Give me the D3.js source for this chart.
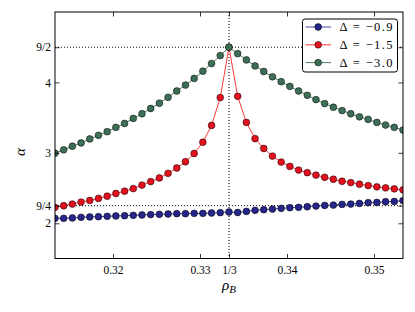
<!DOCTYPE html>
<html>
<head>
<meta charset="utf-8">
<script src="https://cdn.jsdelivr.net/npm/d3@7"></script>
<style>
  html, body { margin: 0; padding: 0; background: #fff; }
  svg text { font-family: "Liberation Serif", "DejaVu Serif", serif; fill: #000; }
</style>
</head>
<body>
<div id="chart"></div>
<script>
// rho_B sample points (1/3 +- k/1000)
const rhoB = [
  0.31333, 0.31433, 0.31533, 0.31633, 0.31733, 0.31833, 0.31933, 0.32033, 0.32133, 0.32233,
  0.32333, 0.32433, 0.32533, 0.32633, 0.32733, 0.32833, 0.32933, 0.33033, 0.33133, 0.33233,
  0.33333,
  0.33433, 0.33533, 0.33633, 0.33733, 0.33833, 0.33933, 0.34033, 0.34133, 0.34233, 0.34333,
  0.34433, 0.34533, 0.34633, 0.34733, 0.34833, 0.34933, 0.35033, 0.35133, 0.35233, 0.35333
];

const alphaD09 = [
  2.071, 2.071, 2.076, 2.085, 2.090, 2.094, 2.099, 2.104, 2.108, 2.113,
  2.118, 2.123, 2.127, 2.132, 2.137, 2.137, 2.141, 2.141, 2.146, 2.151,
  2.160,
  2.153, 2.169, 2.184, 2.193, 2.202, 2.212, 2.221, 2.226, 2.235, 2.245,
  2.254, 2.259, 2.268, 2.273, 2.282, 2.292, 2.296, 2.306, 2.310, 2.322
];

const alphaD15 = [
  2.226, 2.249, 2.273, 2.301, 2.324, 2.353, 2.385, 2.423, 2.456, 2.493,
  2.542, 2.592, 2.644, 2.709, 2.785, 2.874, 2.991, 3.151, 3.390, 3.785,
  4.500,
  3.803, 3.432, 3.202, 3.062, 2.954, 2.869, 2.808, 2.756, 2.719, 2.684,
  2.653, 2.625, 2.597, 2.578, 2.555, 2.536, 2.517, 2.503, 2.489, 2.475
];

const alphaD30 = [
  2.996, 3.043, 3.094, 3.141, 3.198, 3.249, 3.301, 3.362, 3.418, 3.489,
  3.555, 3.630, 3.705, 3.789, 3.878, 3.963, 4.057, 4.160, 4.268, 4.381,
  4.500,
  4.409, 4.320, 4.235, 4.155, 4.080, 4.010, 3.944, 3.878, 3.817, 3.756,
  3.700, 3.648, 3.601, 3.555, 3.512, 3.475, 3.432, 3.395, 3.362, 3.324
];

const seriesNames = ["\u0394 = \u22120.9", "\u0394 = \u22121.5", "\u0394 = \u22123.0"];
const xTickVals   = [0.32, 0.33, 1 / 3, 0.34, 0.35];
const xTickLabels = ["0.32", "0.33", "1/3", "0.34", "0.35"];
const yTickVals   = [2, 2.25, 3, 4, 4.5];
const yTickLabels = ["2", "9/4", "3", "4", "9/2"];
const refX = [1 / 3];
const refY = [2.25, 4.5];

const width  = 415;
const height = 312;
const margin = { top: 12, right: 12, bottom: 53.5, left: 55 };
const serif  = "'Liberation Serif', 'DejaVu Serif', serif";

const lineColors   = ["#4a4aa0", "#ff3838", "#4e7e63"];
const markerColors = ["#25258a", "#e3101e", "#3d6f56"];

const x = d3.scaleLinear()
  .domain([1 / 3 - 0.02, 1 / 3 + 0.02])
  .range([margin.left, width - margin.right]);
const y = d3.scaleLinear()
  .domain([1.5, 5])
  .range([height - margin.bottom, margin.top]);

const svg = d3.select("#chart").append("svg")
  .attr("width", width)
  .attr("height", height)
  .attr("font-family", serif);

svg.append("defs").append("clipPath").attr("id", "plot")
  .append("rect")
  .attr("x", margin.left).attr("y", margin.top)
  .attr("width", width - margin.left - margin.right)
  .attr("height", height - margin.top - margin.bottom);

// dotted reference lines
const ref = svg.append("g").attr("stroke", "#000").attr("stroke-width", 1)
  .attr("stroke-dasharray", "1,2");
ref.selectAll(".rx").data(refX).enter().append("line")
  .attr("x1", d => x(d)).attr("x2", d => x(d))
  .attr("y1", margin.top).attr("y2", height - margin.bottom);
ref.selectAll(".ry").data(refY).enter().append("line")
  .attr("x1", margin.left).attr("x2", width - margin.right)
  .attr("y1", d => y(d)).attr("y2", d => y(d));

const series = [alphaD09, alphaD15, alphaD30];
const line = d3.line().x((d, i) => x(rhoB[i])).y(d => y(d));

const plot = svg.append("g").attr("clip-path", "url(#plot)");
series.forEach((vals, s) => {
  plot.append("path")
    .datum(vals)
    .attr("fill", "none")
    .attr("stroke", lineColors[s])
    .attr("stroke-width", 1)
    .attr("d", line);
  plot.selectAll(".m" + s).data(vals).enter().append("circle")
    .attr("cx", (d, i) => x(rhoB[i]))
    .attr("cy", d => y(d))
    .attr("r", 3.4)
    .attr("fill", markerColors[s])
    .attr("stroke", "#000")
    .attr("stroke-width", 0.5);
});

// axes: ticks inside, on all four sides
const tickLen = 4.5;
const axisFmt = (vals, labels) => d => labels[vals.indexOf(d)];

const xBottom = svg.append("g")
  .attr("transform", `translate(0,${height - margin.bottom})`)
  .call(d3.axisBottom(x).tickValues(xTickVals)
    .tickFormat(axisFmt(xTickVals, xTickLabels))
    .tickSizeInner(-tickLen).tickSizeOuter(0).tickPadding(7));
const xTop = svg.append("g")
  .attr("transform", `translate(0,${margin.top})`)
  .call(d3.axisTop(x).tickValues(xTickVals).tickFormat("")
    .tickSizeInner(-tickLen).tickSizeOuter(0));
const yLeft = svg.append("g")
  .attr("transform", `translate(${margin.left},0)`)
  .call(d3.axisLeft(y).tickValues(yTickVals)
    .tickFormat(axisFmt(yTickVals, yTickLabels))
    .tickSizeInner(-tickLen).tickSizeOuter(0).tickPadding(4));
const yRight = svg.append("g")
  .attr("transform", `translate(${width - margin.right},0)`)
  .call(d3.axisRight(y).tickValues(yTickVals).tickFormat("")
    .tickSizeInner(-tickLen).tickSizeOuter(0));

[xBottom, xTop, yLeft, yRight].forEach(g => {
  g.attr("font-family", serif).attr("font-size", 11.5);
  g.select(".domain").remove();
  g.selectAll("line").attr("stroke", "#000").attr("stroke-width", 0.8);
  g.selectAll("text").attr("fill", "#000");
});

svg.append("rect")
  .attr("x", margin.left).attr("y", margin.top)
  .attr("width", width - margin.left - margin.right)
  .attr("height", height - margin.top - margin.bottom)
  .attr("fill", "none").attr("stroke", "#000").attr("stroke-width", 1);

// axis labels
svg.append("text")
  .attr("transform", `translate(25,152) rotate(-90)`)
  .attr("text-anchor", "middle")
  .attr("font-size", 15).attr("font-style", "italic")
  .text("\u03b1");

const xl = svg.append("text")
  .attr("x", (margin.left + width - margin.right) / 2)
  .attr("y", 290)
  .attr("text-anchor", "middle")
  .attr("font-size", 15);
xl.append("tspan").attr("font-style", "italic").text("\u03c1");
xl.append("tspan").attr("dy", 3).attr("font-size", 11).attr("font-style", "italic").text("B");

// legend
const lg = svg.append("g").attr("transform", "translate(302.5,19)");
lg.append("rect")
  .attr("width", 95).attr("height", 53).attr("rx", 2.5)
  .attr("fill", "#fff").attr("stroke", "#000").attr("stroke-width", 1);
seriesNames.forEach((name, s) => {
  const cy = 8 + s * 17.8;
  lg.append("line").attr("x1", 3).attr("x2", 28.5).attr("y1", cy).attr("y2", cy)
    .attr("stroke", lineColors[s]).attr("stroke-width", 1);
  lg.append("circle").attr("cx", 15.7).attr("cy", cy).attr("r", 3.4)
    .attr("fill", markerColors[s]).attr("stroke", "#000").attr("stroke-width", 0.5);
  lg.append("text").attr("x", 37).attr("y", cy + 4.2)
    .attr("font-size", 12.5)
    .attr("textLength", 53).attr("lengthAdjust", "spacing")
    .text(name);
});
</script>
</body>
</html>
